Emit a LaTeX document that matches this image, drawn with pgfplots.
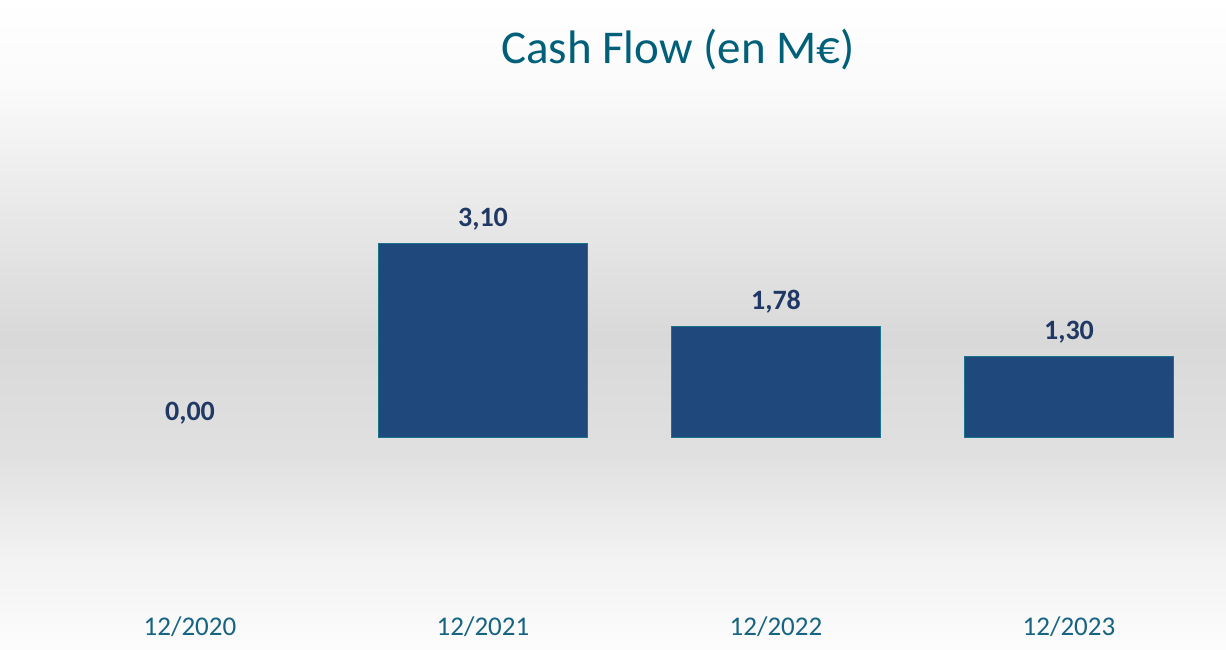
\documentclass[border=0pt]{standalone}
\usepackage{fontspec}
\setmainfont{Carlito}
\usepackage{pgfplots}
\pgfplotsset{compat=1.18}
\definecolor{barblue}{RGB}{31,73,125}
\definecolor{baredge}{RGB}{23,116,138}
\definecolor{titleteal}{RGB}{0,96,122}
\definecolor{ticklab}{RGB}{22,100,130}
\definecolor{lblnavy}{RGB}{31,56,100}
\pgfdeclareverticalshading{bggrad}{100bp}{
  color(0bp)=(white);
  color(25bp)=(black!1);
  color(32bp)=(black!5);
  color(40bp)=(black!12);
  color(49bp)=(black!15);
  color(60bp)=(black!8);
  color(68bp)=(black!2);
  color(75bp)=(white);
  color(100bp)=(white)}
\pgfplotstableread{
x  y    lab
1  3.10 {3,10}
2  1.78 {1,78}
3  1.30 {1,30}
}\cashflow
\pgfplotstableread{
x  y    lab
0  0.00 {0,00}
}\zerorow

\begin{document}
\begin{tikzpicture}
\shade[shading=bggrad] (0pt,0pt) rectangle (613pt,324.5pt);
\node[text=titleteal,font=\fontsize{23.5}{28}\selectfont] at (339pt,299.5pt) {Cash Flow (en M€)};
\begin{axis}[
    at={(21.75pt,19.5pt)}, anchor=south west,
    scale only axis, width=586pt, height=242.6pt,
    xmin=-0.5, xmax=3.5, ymin=-2.75, ymax=5,
    axis line style={draw=none}, clip=false,
    ytick=\empty,
    xtick={0,1,2,3},
    xticklabels={12/2020,12/2021,12/2022,12/2023},
    xticklabel pos=bottom,
    xticklabel style={font=\fontsize{13.5}{16}\selectfont,text=ticklab},
    major tick length=0pt,
    bar width=104.5pt,
    nodes near coords,
    point meta=explicit symbolic,
    every node near coord/.style={font=\fontsize{14}{17}\selectfont\bfseries,text=lblnavy,anchor=south,yshift=3pt},
]
  \addplot[ybar, bar shift=0pt, fill=barblue, draw=baredge, line width=0.6pt]
    table[x=x, y=y, meta=lab] {\cashflow};
  \addplot[ybar, bar shift=0pt, draw=none, fill=none]
    table[x=x, y=y, meta=lab] {\zerorow};
\end{axis}
\end{tikzpicture}
\end{document}
